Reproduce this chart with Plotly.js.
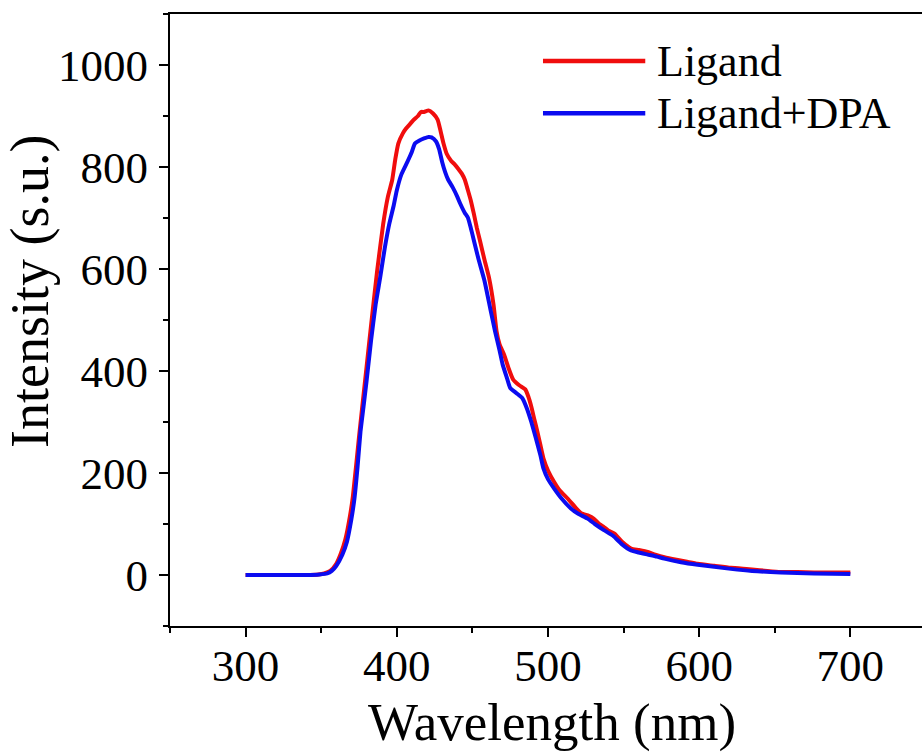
<!DOCTYPE html>
<html>
<head>
<meta charset="utf-8">
<script src="https://cdn.plot.ly/plotly-3.0.1.min.js"></script>
<style>
html,body{margin:0;padding:0;background:#fff;overflow:hidden;}
#chart{width:922px;height:754px;}
</style>
</head>
<body>
<div id="chart"></div>
<script>
// Series names
const seriesNames = ["Ligand", "Ligand+DPA"];
const seriesColors = ["#f00d0d", "#0b0bf0"];

// Ligand (red)
const wavelengthLigand = [300,320,340,348,352,356,360,363,366,369,371,375,379,383,387,391,394,397,399,401,404,406,409,411,414,416,418,421,424,427,429,431,433,436,438,441,443,445,447,449,451,453,455,458,461,464,466,468,471,474,477,481,485,487,489,491,493,495,497,500,504,508,513,518,522,527,530,534,537,540,544,549,555,560,566,571,577,585,592,599,610,621,635,645,654,665,676,690,700];
const intensityLigand = [0,0,0,1,3,8,22,42,70,115,155,270,380,490,596,688,740,775,815,846,866,875,885,892,900,908,908,911,905,893,870,845,826,812,806,795,787,775,755,734,708,680,656,618,583,530,478,452,432,405,383,372,364,350,330,305,281,255,229,205,183,165,150,133,121,116,111,100,94,87,81,65,52,49,45,40,35,30,26,22,18,14,11,8,6,6,5,5,5];

// Ligand+DPA (blue)
const wavelengthDPA = [300,320,340,349,354,357,360,364,367,370,372,374,376,378,380,383,386,389,392,395,398,400,403,407,410,412,415,418,421,423,426,428,430,432,434,437,440,442,445,447,449,451,454,458,462,465,468,470,473,475,479,483,486,489,492,495,497,500,504,509,515,520,526,531,537,543,549,555,560,566,572,577,588,599,610,621,635,654,676,700];
const intensityDPA = [0,0,0,1,3,8,18,40,65,110,150,210,281,330,380,460,530,583,640,688,725,754,785,810,830,846,852,856,859,858,850,835,810,790,775,760,742,728,710,701,680,656,620,577,520,478,440,413,385,367,357,347,327,300,268,235,209,188,170,150,131,120,111,100,88,77,60,48,44,40,36,32,25,20,16,12,8,5,3,2];

const xTickVals = [300,400,500,600,700];
const yTickVals = [0,200,400,600,800,1000];
const xTitle = 'Wavelength (nm)';
const yTitle = 'Intensity (s.u.)';

const font = "Liberation Serif";

const traces = [
  {x: wavelengthLigand, y: intensityLigand, name: seriesNames[0], type: 'scatter', mode: 'lines',
   line: {color: seriesColors[0], width: 4, shape: 'spline', smoothing: 0.5}, showlegend: false},
  {x: wavelengthDPA, y: intensityDPA, name: seriesNames[1], type: 'scatter', mode: 'lines',
   line: {color: seriesColors[1], width: 4, shape: 'spline', smoothing: 0.5}, showlegend: false}
];

// manual legend (long line samples like the reference)
const legY = [0.923, 0.838];
const shapes = legY.map((yy, i) => ({type: 'line', xref: 'paper', yref: 'paper',
  x0: 0.496, x1: 0.632, y0: yy, y1: yy, line: {color: seriesColors[i], width: 4.5}}));
const annotations = legY.map((yy, i) => ({xref: 'paper', yref: 'paper', x: 0.645, y: yy,
  xanchor: 'left', yanchor: 'middle', text: seriesNames[i], showarrow: false,
  font: {family: font, size: 44, color: '#000'}}));
// axis titles placed like the reference
annotations.push({xref: 'paper', yref: 'paper', x: -0.186, y: 0.546, xanchor: 'center', yanchor: 'middle',
  textangle: -90, text: yTitle, showarrow: false, font: {family: font, size: 54, color: '#000'}});
annotations.push({xref: 'paper', yref: 'paper', x: 0.508, y: -0.157, xanchor: 'center', yanchor: 'middle',
  text: xTitle, showarrow: false, font: {family: font, size: 53, color: '#000'}});

const layout = {
  width: 922, height: 754,
  margin: {l: 170, r: 0, t: 14, b: 128},
  paper_bgcolor: '#fff', plot_bgcolor: '#fff',
  font: {family: font, color: '#000'},
  showlegend: false,
  xaxis: {
    range: [250, 747.4], tickvals: xTickVals, ticktext: xTickVals.map(String),
    ticks: 'outside', ticklen: 9, tickwidth: 2, tickcolor: '#000',
    minor: {dtick: 50, tick0: 250, ticks: 'outside', ticklen: 5, tickwidth: 2, tickcolor: '#000'},
    showline: true, linecolor: '#000', linewidth: 2, mirror: true,
    showgrid: false, zeroline: false, ticklabelstandoff: -10,
    tickfont: {family: font, size: 45, color: '#000'}
  },
  yaxis: {
    range: [-100, 1100], tickvals: yTickVals, ticktext: yTickVals.map(String),
    ticks: 'outside', ticklen: 9, tickwidth: 2, tickcolor: '#000',
    minor: {dtick: 100, tick0: -100, ticks: 'outside', ticklen: 5, tickwidth: 2, tickcolor: '#000'},
    showline: true, linecolor: '#000', linewidth: 2, mirror: false,
    showgrid: false, zeroline: false, ticklabelstandoff: 2,
    tickfont: {family: font, size: 45, color: '#000'}
  },
  shapes: shapes,
  annotations: annotations
};

Plotly.newPlot('chart', traces, layout, {displayModeBar: false, staticPlot: true});
</script>
</body>
</html>
